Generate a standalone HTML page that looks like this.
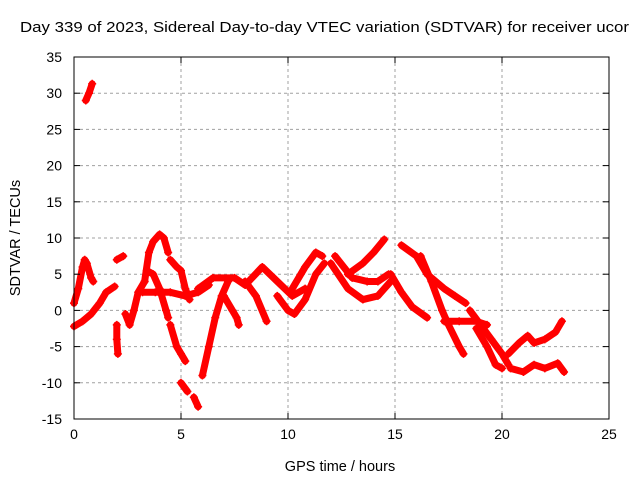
<!DOCTYPE html>
<html><head><meta charset="utf-8"><style>
body{margin:0;background:#fff;}
svg{display:block;font-family:"Liberation Sans",sans-serif;}
</style></head><body>
<svg id="chart" width="640" height="480">
<text x="20" y="32" font-size="15" textLength="609" lengthAdjust="spacingAndGlyphs" fill="#000">Day 339 of 2023, Sidereal Day-to-day VTEC variation (SDTVAR) for receiver ucor</text>
<text x="340" y="471" font-size="14.5" text-anchor="middle">GPS time / hours</text>
<text x="20" y="238" font-size="14.5" text-anchor="middle" transform="rotate(-90 20 238)">SDTVAR / TECUs</text>
<g id="grid"></g><g id="data"></g><g id="frame"></g>
</svg>
<script>
const xTicks=[0,5,10,15,20,25];
const yTicks=[-15,-10,-5,0,5,10,15,20,25,30,35];
const track1=[[0.55,29],[0.7,30],[0.85,31.3]];
const track2=[[0,1],[0.2,3],[0.4,6],[0.5,7],[0.6,6.5],[0.8,4.5],[0.9,4]];
const track3=[[0,-2.2],[0.4,-1.5],[0.8,-0.5],[1.2,1],[1.5,2.5],[1.9,3.3]];
const track4=[[2.0,7],[2.3,7.5]];
const track5=[[2.0,-2],[2.0,-4],[2.05,-6]];
const track6=[[2.4,-0.5],[2.6,-2],[2.8,0],[3.0,2.5],[3.3,4]];
const track7=[[3.3,4],[3.5,8],[3.7,9.5],[4.0,10.5],[4.2,10],[4.4,8]];
const track8=[[3.4,5.5],[3.7,5],[4.0,3],[4.3,0],[4.4,-1]];
const track9=[[4.5,7],[4.8,6],[5.0,5.5],[5.2,3],[5.4,1.5]];
const track10=[[4.5,-2],[4.8,-5],[5.0,-6],[5.2,-7]];
const track11=[[5.0,-10],[5.3,-11.2]];
const track12=[[5.6,-12],[5.8,-13.3]];
const track13=[[6.0,-9],[6.3,-5],[6.6,-1],[6.9,2],[7.2,4]];
const track14=[[5.8,3],[6.5,4.5],[7.5,4.5],[8.0,3.5],[8.8,6],[9.5,4],[10.2,2],[10.8,3]];
const track15=[[3.2,2.5],[3.8,2.5],[4.5,2.5],[5.2,2],[5.8,2.5],[6.3,3.5]];
const track16=[[7.0,2],[7.4,0],[7.6,-1],[7.7,-2]];
const track17=[[8.0,4],[8.5,2],[9.0,-1.5]];
const track18=[[9.5,2],[10.0,0],[10.3,-0.5],[10.8,1.5],[11.3,5],[11.7,6.5]];
const track19=[[10.2,3],[10.8,6],[11.3,8],[11.6,7.5]];
const track20=[[12.2,7.5],[12.6,6],[13.0,4.5],[13.7,4],[14.2,4],[14.7,5]];
const track21=[[12.8,5],[13.5,6.5],[14.0,8],[14.5,9.8]];
const track22=[[12.0,6.5],[12.8,3],[13.5,1.5],[14.2,2],[14.8,4]];
const track23=[[14.8,5],[15.3,2.5],[15.8,0.5],[16.5,-1]];
const track24=[[15.3,9],[16.0,7.5],[16.5,5],[17.3,3],[17.8,2],[18.3,1]];
const track25=[[16.2,7.5],[16.7,4],[17.2,0],[17.5,-2],[18.0,-5],[18.2,-6]];
const track26=[[18.5,0],[19.0,-2],[19.5,-4],[20.0,-6],[20.3,-7.5]];
const track27=[[17.3,-1.5],[18.0,-1.5],[18.8,-1.5],[19.3,-2]];
const track28=[[18.8,-2.5],[19.3,-5],[19.7,-7.5],[20.0,-8]];
const track29=[[20.3,-6],[20.8,-4.5],[21.2,-3.5],[21.5,-4.5],[22.0,-4],[22.5,-3],[22.8,-1.5]];
const track30=[[20.4,-8],[21.0,-8.5],[21.5,-7.5],[22.0,-8],[22.6,-7.3],[22.9,-8.5]];
const tracks=[track1,track2,track3,track4,track5,track6,track7,track8,track9,track10,track11,track12,track13,track14,track15,track16,track17,track18,track19,track20,track21,track22,track23,track24,track25,track26,track27,track28,track29,track30];

const L=74,R=609,T=57,B=419;
const xs=t=>L+(t-0)/25*(R-L);
const ys=v=>B-(v+15)/50*(B-T);
const NS="http://www.w3.org/2000/svg";
function mk(tag,attrs,parent){const e=document.createElementNS(NS,tag);for(const k in attrs)e.setAttribute(k,attrs[k]);parent.appendChild(e);return e;}
const grid=document.getElementById('grid'),frame=document.getElementById('frame'),data=document.getElementById('data');
xTicks.forEach(t=>{const x=xs(t);
 if(t>0&&t<25){const g=mk('line',{x1:x,y1:T,x2:x,y2:B,stroke:'#a0a0a0','stroke-dasharray':'3,3'},grid);}
 mk('line',{x1:x,y1:B,x2:x,y2:B-6,stroke:'#000'},frame);mk('line',{x1:x,y1:T,x2:x,y2:T+6,stroke:'#000'},frame);
 const lb=mk('text',{x:x,y:B+20,'font-size':14,'text-anchor':'middle'},frame);lb.textContent=t;
 });
yTicks.forEach(v=>{const y=ys(v);
 if(v>-15&&v<35){const g=mk('line',{x1:L,y1:y,x2:R,y2:y,stroke:'#a0a0a0','stroke-dasharray':'3,3'},grid);}
 mk('line',{x1:L,y1:y,x2:L+6,y2:y,stroke:'#000'},frame);mk('line',{x1:R,y1:y,x2:R-6,y2:y,stroke:'#000'},frame);
 const lb=mk('text',{x:L-12,y:y+5,'font-size':14,'text-anchor':'end'},frame);lb.textContent=v;
 });
const fr=mk('rect',{x:L,y:T,width:R-L,height:B-T,fill:'none',stroke:'#000'},frame);

tracks.forEach(tr=>{
 const g=mk('g',{},data);
 
 
 if(tr.length>1){mk('polyline',{points:tr.map(p=>xs(p[0])+','+ys(p[1])).join(' '),fill:'none',stroke:'#f00','stroke-width':7,'stroke-linejoin':'round','stroke-linecap':'round'},g);}
 tr.forEach(p=>{const x=xs(p[0]),y=ys(p[1]);
  const c=mk('path',{d:`M${x-4},${y}H${x+4}M${x},${y-4}V${y+4}`,stroke:'#f00','stroke-width':1.5},g);
  });
});
</script>
</body></html>
